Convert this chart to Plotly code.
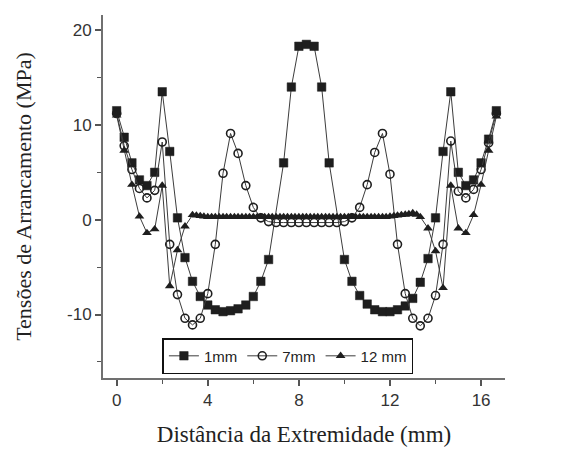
import plotly.graph_objects as go

# ---- data ----
x_1mm = [0, 0.33, 0.67, 1.0, 1.33, 1.67, 2.0, 2.33, 2.67, 3.0, 3.33, 3.67, 4.0, 4.33, 4.67, 5.0,
         5.33, 5.67, 6.0, 6.33, 6.67, 7.33, 7.67, 8.0, 8.33, 8.67, 9.0, 9.33, 10.0, 10.33, 10.67,
         11.0, 11.33, 11.67, 12.0, 12.33, 12.67, 13.0, 13.33, 13.67, 14.0, 14.33, 14.67, 15.0,
         15.33, 15.67, 16.0, 16.33, 16.67]
y_1mm = [11.5, 8.7, 6.0, 4.2, 3.6, 5.0, 13.5, 7.2, 0.2, -4.0, -6.5, -8.1, -9.0, -9.5, -9.7, -9.6,
         -9.4, -9.0, -8.1, -6.5, -4.2, 6.0, 14.0, 18.3, 18.5, 18.3, 14.0, 6.0, -4.2, -6.5, -8.0,
         -8.9, -9.5, -9.7, -9.7, -9.5, -9.1, -8.3, -6.6, -4.1, 0.2, 7.2, 13.5, 5.0,
         3.6, 4.2, 6.0, 8.5, 11.5]

x_7mm = [0, 0.33, 0.67, 1.0, 1.33, 1.67, 2.0, 2.33, 2.67, 3.0, 3.33, 3.67, 4.0, 4.33, 4.67, 5.0,
         5.33, 5.67, 6.0, 6.33, 6.67, 7.0, 7.33, 7.67, 8.0, 8.33, 8.67, 9.0, 9.33, 9.67, 10.0,
         10.33, 10.67, 11.0, 11.33, 11.67, 12.0, 12.33, 12.67, 13.0, 13.33, 13.67, 14.0, 14.33,
         14.67, 15.0, 15.33, 15.67, 16.0, 16.33, 16.67]
y_7mm = [11.2, 7.8, 5.3, 3.3, 2.3, 3.1, 8.2, -2.6, -7.9, -10.4, -11.1, -10.4, -7.8, -2.6, 4.9, 9.1,
         7.0, 3.6, 1.3, 0.2, -0.2, -0.3, -0.3, -0.3, -0.3, -0.3, -0.3, -0.3, -0.3, -0.3, -0.2,
         0.2, 1.3, 3.7, 7.1, 9.1, 4.8, -2.6, -7.8, -10.4, -11.2, -10.4, -8.0, -2.6,
         8.3, 3.0, 2.3, 3.2, 5.3, 8.1, 11.2]

x_12mm = [0, 0.33, 0.67, 1.0, 1.33, 1.67, 2.0, 2.33, 2.67, 3.0, 3.33,
          3.5, 3.67, 3.83, 4.0, 4.17, 4.33, 4.5, 4.67, 4.83, 5.0, 5.17, 5.33, 5.5, 5.67, 5.83,
          6.0, 6.17, 6.33, 6.5, 6.67, 6.83, 7.0, 7.17, 7.33, 7.5, 7.67, 7.83, 8.0, 8.17, 8.33,
          8.5, 8.67, 8.83, 9.0, 9.17, 9.33, 9.5, 9.67, 9.83, 10.0, 10.17, 10.33, 10.5, 10.67,
          10.83, 11.0, 11.17, 11.33, 11.5, 11.67, 11.83, 12.0, 12.17, 12.33, 12.5, 12.67, 12.83,
          13.0, 13.17,
          13.33, 13.67, 14.0, 14.33, 14.67, 15.0, 15.33, 15.67, 16.0, 16.33, 16.67]
y_12mm = [11.0, 7.3, 3.7, 0.35, -1.4, -1.0, 3.6, -7.0, -3.2, -0.7, 0.5,
          0.45, 0.4, 0.35, 0.3, 0.3, 0.3, 0.3, 0.3, 0.3, 0.3, 0.3, 0.3, 0.3, 0.3, 0.3,
          0.3, 0.3, 0.3, 0.3, 0.3, 0.3, 0.3, 0.3, 0.3, 0.3, 0.3, 0.3, 0.3, 0.3, 0.3,
          0.3, 0.3, 0.3, 0.3, 0.3, 0.3, 0.3, 0.3, 0.3, 0.3, 0.3, 0.3, 0.3, 0.3,
          0.3, 0.3, 0.3, 0.3, 0.3, 0.3, 0.3, 0.35, 0.4, 0.45, 0.5, 0.55, 0.6,
          0.7, 0.55,
          0.3, -0.9, -3.3, -7.2, 3.6, -0.9, -1.4, 0.5, 3.7, 7.3, 10.9]

x_ticks = [0, 4, 8, 12, 16]
x_minor = [2, 6, 10, 14]
y_ticks = [-10, 0, 10, 20]
y_ticklabels = ["-10", "0", "10", "20"]
y_minor = [-15, -5, 5, 15]

LINE = "#3c3c3c"
INK = "#1e1e1e"

fig = go.Figure()
fig.add_trace(go.Scatter(x=x_1mm, y=y_1mm, mode="lines+markers", name="1mm",
                         line=dict(color=LINE, width=1),
                         marker=dict(symbol="square", size=8.5, color=INK,
                                     line=dict(color=INK, width=0.5))))
fig.add_trace(go.Scatter(x=x_7mm, y=y_7mm, mode="lines+markers", name="7mm",
                         line=dict(color=LINE, width=1),
                         marker=dict(symbol="circle-open", size=8, color=INK,
                                     line=dict(color=INK, width=1.6))))
fig.add_trace(go.Scatter(x=x_12mm, y=y_12mm, mode="lines+markers", name="12 mm",
                         line=dict(color=LINE, width=1),
                         marker=dict(symbol="triangle-up", size=8.5, color=INK)))

axis_font = dict(family="Liberation Sans, Arial", size=17, color="#333333")
title_font = dict(family="Liberation Serif, Times New Roman", size=22, color="#222222")
xtitle_font = dict(family="Liberation Serif, Times New Roman", size=23, color="#222222")

fig.update_layout(
    width=566, height=461,
    margin=dict(l=95, r=69, t=7, b=91),
    paper_bgcolor="white", plot_bgcolor="white",
    showlegend=True,
    legend=dict(orientation="h", x=0.46, xanchor="center", y=0.11, yanchor="top",
                bordercolor="#111111", borderwidth=1.5, bgcolor="white",
                font=dict(family="Liberation Sans, Arial", size=15, color="#222222"),
                itemwidth=30, tracegroupgap=0),
    xaxis=dict(range=[-0.6, 17.05], showline=True, linecolor="#707070", linewidth=2,
               ticks="outside", ticklen=6, tickwidth=1.5, tickcolor="#555555",
               tickvals=x_ticks, showgrid=False, zeroline=False, tickfont=axis_font,
               minor=dict(tickvals=x_minor, ticks="outside", ticklen=4, tickwidth=1.2,
                          tickcolor="#555555", showgrid=False),
               title=dict(text="Distância da Extremidade (mm)", font=xtitle_font, standoff=16)),
    yaxis=dict(range=[-16.7, 21.6], showline=True, linecolor="#707070", linewidth=2,
               ticks="outside", ticklen=6, tickwidth=1.5, tickcolor="#555555",
               tickvals=y_ticks, ticktext=y_ticklabels, showgrid=False, zeroline=False,
               tickfont=axis_font,
               minor=dict(tickvals=y_minor, ticks="outside", ticklen=4, tickwidth=1.2,
                          tickcolor="#555555", showgrid=False),
               title=dict(text="Tensões de Arrancamento (MPa)", font=title_font, standoff=29)),
)

fig.write_html("out.html")
